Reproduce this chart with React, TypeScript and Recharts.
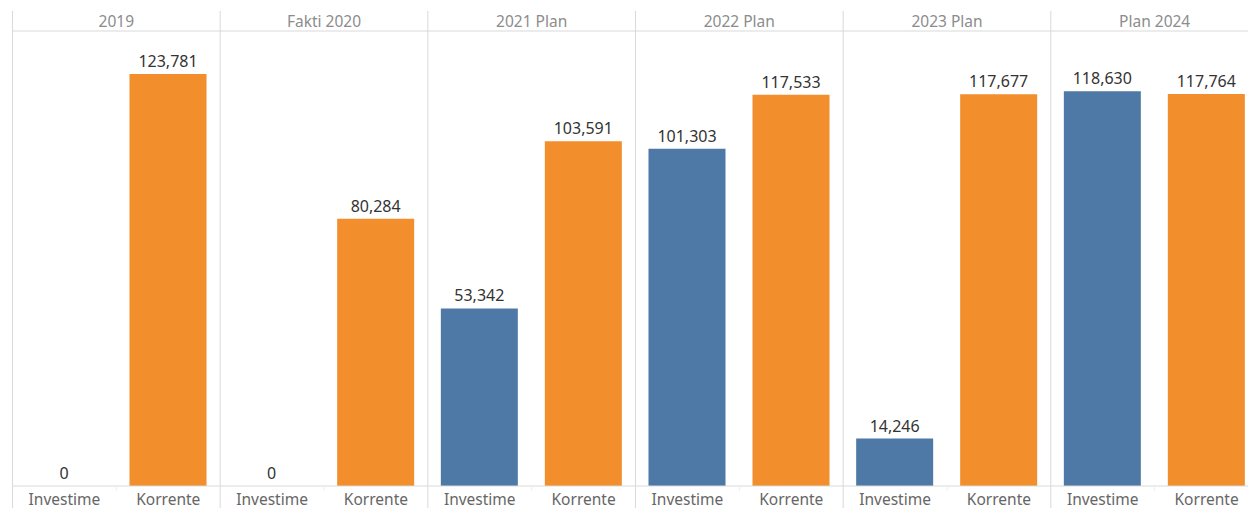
import React from 'react';
import { BarChart, Bar, XAxis, YAxis, Rectangle } from 'recharts';

const categories = ['2019', 'Fakti 2020', '2021 Plan', '2022 Plan', '2023 Plan', 'Plan 2024'];
const investime = [0, 0, 53342, 101303, 14246, 118630];
const korrente = [123781, 80284, 103591, 117533, 117677, 117764];
const measureLabels = ['Investime', 'Korrente'];

const data = categories.map((c, i) => ({ cat: c, investime: investime[i], korrente: korrente[i] }));

const CHART_W = 1270;
const CHART_H = 508;
const M = { top: 11, left: 12.5, right: 11.5, bottom: 0 };
const PLOT_W = CHART_W - M.left - M.right;
const BAND = PLOT_W / categories.length;
const FONT = '"Noto Sans", sans-serif';
const GRID = '#d9d9d9';

const fmt = (v: any) => Number(v).toLocaleString('en-US');

const TopTick = (props: any) => {
  const { x, payload } = props;
  return (
    <g>
      <line x1={x - BAND / 2} x2={x - BAND / 2} y1={11} y2={CHART_H} stroke={GRID} strokeWidth={1} />
      <text x={x} y={27} textAnchor="middle" fontFamily={FONT} fontSize={15.5} fill="#8c8c8c">
        {payload.value}
      </text>
    </g>
  );
};

const BottomTick = (props: any) => {
  const { x } = props;
  const off = BAND / 4;
  return (
    <g>
      <line x1={x} x2={x} y1={486} y2={491} stroke="#eeeeee" strokeWidth={1} />
      <text x={x - off} y={505} textAnchor="middle" fontFamily={FONT} fontSize={15.5} fill="#666666">
        {measureLabels[0]}
      </text>
      <text x={x + off} y={505} textAnchor="middle" fontFamily={FONT} fontSize={15.5} fill="#666666">
        {measureLabels[1]}
      </text>
    </g>
  );
};

const BarShape = (props: any) => {
  const { value, x, y, width, height, fill } = props;
  const v = Array.isArray(value) ? value[1] - value[0] : value;
  const base = Number(y) + Number(height);
  const top = v === 0 ? base : Number(y);
  return (
    <g>
      {v !== 0 && <Rectangle x={x} y={y} width={width} height={height} fill={fill} />}
      <text x={Number(x) + Number(width) / 2} y={top - 7} textAnchor="middle" fontFamily={FONT} fontSize={16} fill="#333333">
        {fmt(v)}
      </text>
    </g>
  );
};

export default function App() {
  return (
    <div style={{ position: 'absolute', left: 0, top: 0, width: 1248, height: 508, overflow: 'hidden', background: '#fff' }}>
      <BarChart width={CHART_W} height={CHART_H} data={data} margin={M} barSize={77} barGap={27}>
        <XAxis
          xAxisId="top"
          dataKey="cat"
          orientation="top"
          height={20}
          tickLine={false}
          axisLine={{ stroke: GRID }}
          tick={<TopTick />}
          interval={0}
        />
        <XAxis
          xAxisId="bottom"
          dataKey="cat"
          orientation="bottom"
          height={22}
          tickLine={false}
          axisLine={{ stroke: GRID }}
          tick={<BottomTick />}
          interval={0}
        />
        <YAxis hide domain={[0, 136700]} />
        <Bar xAxisId="bottom" dataKey="investime" fill="#4e79a7" minPointSize={1} isAnimationActive={false} shape={<BarShape />} />
        <Bar xAxisId="bottom" dataKey="korrente" fill="#f28e2b" minPointSize={1} isAnimationActive={false} shape={<BarShape />} />
      </BarChart>
    </div>
  );
}
